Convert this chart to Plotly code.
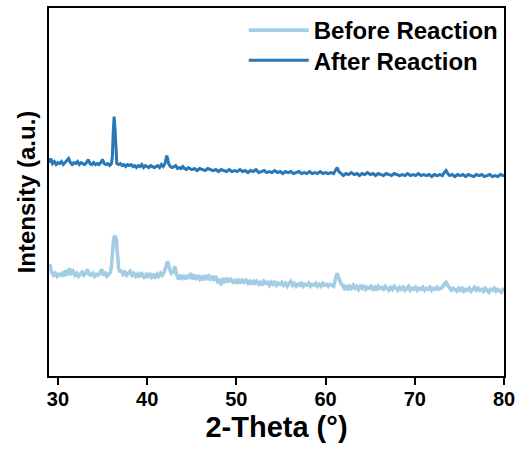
import plotly.graph_objects as go

# 2-Theta (degrees) and intensity (a.u.)
after_theta = [29.0, 29.2, 29.4, 29.6, 29.8, 30.0, 30.2, 30.4, 30.6, 30.8, 31.0, 31.2, 31.4, 31.6, 31.8,
               32.0, 32.2, 32.4, 32.6, 32.8, 33.0, 33.2, 33.4, 33.6, 33.8, 34.0, 34.2, 34.4, 34.6, 34.8,
               35.0, 35.2, 35.4, 35.6, 35.8, 36.0, 36.1, 36.2, 36.3, 36.4, 36.5, 36.6, 36.8, 37.0, 37.2,
               37.4, 37.6, 37.8, 38.0, 38.2, 38.4, 38.6, 38.8, 39.0, 39.2, 39.4, 39.6, 39.8, 40.0, 40.2,
               40.4, 40.6, 40.8, 41.0, 41.2, 41.4, 41.6, 41.8, 42.0, 42.1, 42.2, 42.3, 42.4, 42.6, 42.8,
               43.0, 43.2, 43.4, 43.6, 43.8, 44.0, 44.2, 44.4, 44.6, 44.8, 45.0, 45.3, 45.6, 45.9, 46.2,
               46.5, 46.8, 47.1, 47.4, 47.7, 48.0, 48.3, 48.6, 48.9, 49.2, 49.5, 49.8, 50.1, 50.4, 50.7,
               51.0, 51.3, 51.6, 51.9, 52.2, 52.5, 52.8, 53.1, 53.4, 53.7, 54.0, 54.3, 54.6, 54.9, 55.2,
               55.5, 55.8, 56.1, 56.4, 56.7, 57.0, 57.3, 57.6, 57.9, 58.2, 58.5, 58.8, 59.1, 59.4, 59.7,
               60.0, 60.3, 60.6, 60.9, 61.1, 61.3, 61.5, 61.7, 62.0, 62.3, 62.6, 62.9, 63.2, 63.5, 63.8,
               64.1, 64.4, 64.7, 65.0, 65.3, 65.6, 65.9, 66.2, 66.5, 66.8, 67.1, 67.4, 67.7, 68.0, 68.3,
               68.6, 68.9, 69.2, 69.5, 69.8, 70.1, 70.4, 70.7, 71.0, 71.3, 71.6, 71.9, 72.2, 72.5, 72.8,
               73.1, 73.3, 73.5, 73.7, 73.9, 74.2, 74.5, 74.8, 75.1, 75.4, 75.7, 76.0, 76.3, 76.6, 76.9,
               77.2, 77.5, 77.8, 78.1, 78.4, 78.7, 79.0, 79.3, 79.6, 79.9, 80.0]
after_intensity = [214, 218, 213, 215, 212, 214, 213, 215, 212, 214, 216, 218, 214, 212, 214,
                   213, 215, 212, 214, 213, 212, 214, 217, 213, 212, 214, 212, 213, 212, 214,
                   217, 213, 212, 213, 211, 213, 220, 245, 260, 248, 222, 213, 212, 213, 211,
                   212, 210, 212, 211, 212, 210, 211, 209, 211, 210, 212, 209, 211, 210, 209,
                   211, 210, 209, 210, 211, 209, 212, 210, 213, 217, 221, 218, 213, 210, 209,
                   210, 211, 208, 209, 208, 210, 208, 207, 209, 208, 207, 208, 206, 208, 207,
                   206, 208, 207, 206, 207, 205, 207, 206, 205, 207, 205, 206, 205, 207, 205,
                   206, 204, 206, 205, 207, 204, 205, 206, 204, 205, 204, 206, 204, 205, 203,
                   205, 204, 205, 203, 204, 205, 203, 204, 203, 205, 203, 204, 203, 205, 203,
                   204, 203, 204, 203, 206, 209, 205, 203, 201, 203, 202, 204, 202, 203, 201,
                   203, 202, 204, 202, 203, 201, 203, 202, 201, 203, 202, 201, 203, 202, 201,
                   202, 201, 203, 201, 202, 201, 203, 201, 202, 201, 202, 200, 202, 201, 202,
                   201, 204, 206, 203, 201, 202, 200, 202, 201, 202, 200, 202, 201, 200, 202,
                   201, 202, 200, 201, 202, 200, 201, 200, 202, 201, 202]

before_theta = [29.0, 29.1, 29.3, 29.5, 29.7, 29.9, 30.1, 30.3, 30.5, 30.7, 30.9, 31.1, 31.3, 31.5, 31.7,
                31.9, 32.1, 32.3, 32.5, 32.7, 32.9, 33.1, 33.3, 33.5, 33.7, 33.9, 34.1, 34.3, 34.5, 34.7,
                34.9, 35.1, 35.3, 35.5, 35.7, 35.9, 36.0, 36.1, 36.25, 36.4, 36.55, 36.7, 36.8, 36.95, 37.1,
                37.3, 37.5, 37.7, 37.9, 38.1, 38.3, 38.5, 38.7, 38.9, 39.1, 39.3, 39.5, 39.7, 39.9, 40.1,
                40.3, 40.5, 40.7, 40.9, 41.1, 41.3, 41.5, 41.7, 41.9, 42.1, 42.3, 42.5, 42.7, 42.9, 43.1,
                43.3, 43.5, 43.7, 43.9, 44.1, 44.3, 44.5, 44.7, 44.9, 45.1, 45.3, 45.5, 45.7, 45.9, 46.1,
                46.3, 46.5, 46.7, 46.9, 47.1, 47.3, 47.5, 47.7, 47.9, 48.1, 48.3, 48.5, 48.7, 48.9, 49.1,
                49.3, 49.5, 49.7, 49.9, 50.1, 50.3, 50.5, 50.7, 50.9, 51.1, 51.3, 51.5, 51.7, 51.9, 52.1,
                52.3, 52.5, 52.7, 52.9, 53.1, 53.3, 53.5, 53.7, 53.9, 54.1, 54.3, 54.5, 54.7, 54.9, 55.1,
                55.3, 55.5, 55.7, 55.9, 56.1, 56.3, 56.5, 56.7, 56.9, 57.1, 57.3, 57.5, 57.7, 57.9, 58.1,
                58.3, 58.5, 58.7, 58.9, 59.1, 59.3, 59.5, 59.7, 59.9, 60.1, 60.3, 60.5, 60.7, 60.9, 61.1,
                61.3, 61.5, 61.7, 61.9, 62.1, 62.3, 62.5, 62.7, 62.9, 63.1, 63.3, 63.5, 63.7, 63.9, 64.1,
                64.3, 64.5, 64.7, 64.9, 65.1, 65.3, 65.5, 65.7, 65.9, 66.1, 66.3, 66.5, 66.7, 66.9, 67.1,
                67.3, 67.5, 67.7, 67.9, 68.1, 68.3, 68.5, 68.7, 68.9, 69.1, 69.3, 69.5, 69.7, 69.9, 70.1,
                70.3, 70.5, 70.7, 70.9, 71.1, 71.3, 71.5, 71.7, 71.9, 72.1, 72.3, 72.5, 72.7, 72.9, 73.1,
                73.3, 73.5, 73.7, 73.9, 74.1, 74.3, 74.5, 74.7, 74.9, 75.1, 75.3, 75.5, 75.7, 75.9, 76.1,
                76.3, 76.5, 76.7, 76.9, 77.1, 77.3, 77.5, 77.7, 77.9, 78.1, 78.3, 78.5, 78.7, 78.9, 79.1,
                79.3, 79.5, 79.7, 79.9, 80.0]
before_intensity = [106, 112, 104, 101, 103, 100, 102, 101, 103, 100, 106, 101, 108, 103, 105,
                    101, 103, 100, 102, 104, 101, 103, 107, 102, 101, 103, 100, 102, 101, 103,
                    107, 101, 103, 100, 102, 104, 110, 125, 138, 141, 136, 120, 108, 104, 106,
                    102, 104, 101, 103, 105, 101, 103, 100, 102, 99, 104, 101, 98, 102, 100,
                    103, 99, 101, 98, 102, 100, 103, 101, 104, 110, 115, 108, 103, 104, 110,
                    102, 97, 100, 98, 101, 97, 100, 99, 103, 97, 100, 98, 101, 97, 99,
                    96, 101, 98, 100, 96, 99, 97, 100, 95, 97, 91, 98, 95, 97, 94,
                    98, 95, 93, 97, 94, 96, 93, 97, 94, 96, 93, 95, 92, 96, 93,
                    95, 92, 94, 91, 95, 93, 94, 91, 94, 92, 95, 91, 93, 92, 94,
                    91, 93, 90, 93, 95, 91, 93, 90, 92, 91, 94, 90, 92, 91, 93,
                    90, 92, 91, 93, 90, 92, 90, 93, 91, 92, 90, 92, 91, 90, 97,
                    103, 98, 93, 91, 88, 91, 86, 90, 88, 91, 88, 90, 87, 90, 88,
                    91, 87, 89, 88, 90, 87, 89, 86, 90, 88, 89, 87, 90, 88, 86,
                    89, 87, 90, 88, 86, 89, 87, 89, 86, 88, 90, 86, 88, 87, 89,
                    86, 88, 87, 89, 86, 88, 87, 89, 86, 88, 87, 89, 87, 88, 89,
                    92, 94, 91, 88, 86, 88, 87, 85, 88, 86, 88, 85, 87, 86, 88,
                    85, 87, 89, 86, 88, 86, 87, 85, 88, 86, 84, 87, 86, 88, 85,
                    87, 86, 84, 87, 88]

x_ticks = [30, 40, 50, 60, 70, 80]

FONT = "Liberation Sans, Arial, sans-serif"
LEG_FONT = dict(size=24, family=FONT, weight="bold")

fig = go.Figure()
fig.add_trace(go.Scatter(x=before_theta, y=before_intensity, mode="lines", name="Before Reaction",
                         line=dict(color="#a3cde3", width=3.6), legend="legend"))
fig.add_trace(go.Scatter(x=after_theta, y=after_intensity, mode="lines", name="After Reaction",
                         line=dict(color="#2878b8", width=3.0), legend="legend2"))

fig.update_layout(
    width=524, height=458,
    margin=dict(l=49, r=20, t=8, b=82),
    paper_bgcolor="white", plot_bgcolor="white",
    font=dict(family=FONT, color="black", size=20, weight="bold"),
    showlegend=True,
    legend=dict(x=0.428, xanchor="left", y=1.0, yanchor="top", bgcolor="rgba(0,0,0,0)",
                font=LEG_FONT, itemwidth=60),
    legend2=dict(x=0.428, xanchor="left", y=0.918, yanchor="top", bgcolor="rgba(0,0,0,0)",
                 font=LEG_FONT, itemwidth=60),
    xaxis=dict(range=[29, 80], tickvals=x_ticks, showline=True, linecolor="black", linewidth=2,
               mirror=True, ticks="outside", ticklen=7, tickwidth=2, tickcolor="black",
               showgrid=False, zeroline=False, automargin=False, ticklabelstandoff=-3,
               tickfont=dict(size=20, family=FONT, weight="bold"),
               title=dict(text="2-Theta (°)", font=dict(size=29, family=FONT, weight="bold"), standoff=8)),
    yaxis=dict(range=[0, 369], showline=True, linecolor="black", linewidth=2, mirror=True,
               showticklabels=False, ticks="", showgrid=False, zeroline=False, automargin=False,
               title=dict(text="Intensity (a.u.)", font=dict(size=24, family=FONT, weight="bold"), standoff=5)),
)

fig.write_html("out.html")
